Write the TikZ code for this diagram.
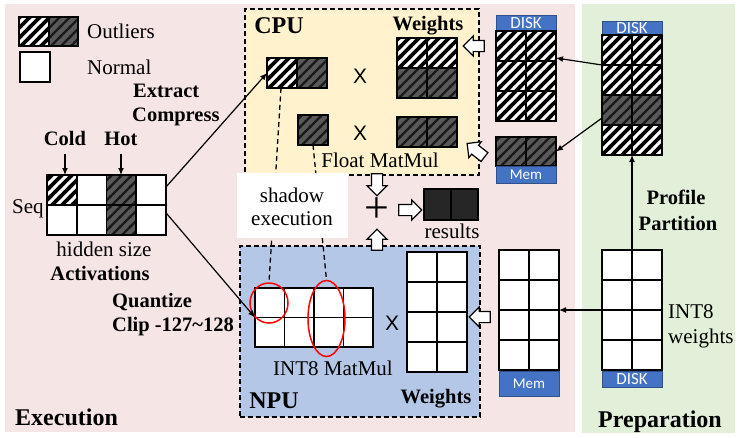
\documentclass[tikz,border=0pt]{standalone}
\usepackage{fontspec}
\setmainfont{Liberation Serif}
\newfontfamily\sansf{Carlito}
\newfontfamily\arialf{Liberation Sans}
\usetikzlibrary{arrows.meta,shapes.arrows,shapes.geometric,patterns.meta,calc}

\definecolor{pinkbg}{RGB}{246,229,229}
\definecolor{greenbg}{RGB}{226,239,217}
\definecolor{cpuy}{RGB}{255,242,204}
\definecolor{npub}{RGB}{180,199,231}
\definecolor{sblue}{RGB}{68,114,196}
\definecolor{dgray}{RGB}{89,89,89}
\definecolor{rdark}{RGB}{38,38,38}

\tikzdeclarepattern{
  name=hatchW,
  type=uncolored,
  bounding box={(-1pt,-1pt) and (11pt,11pt)},
  tile size={(10pt,10pt)},
  code={
    \draw[line width=3.6pt] (-1pt,-1pt) -- (11pt,11pt);
    \draw[line width=3.6pt] (-1pt,9pt) -- (1pt,11pt);
    \draw[line width=3.6pt] (9pt,-1pt) -- (11pt,1pt);
  }
}
\tikzdeclarepattern{
  name=hatchD,
  type=uncolored,
  bounding box={(-1pt,-1pt) and (11pt,11pt)},
  tile size={(10pt,10pt)},
  code={
    \draw[line width=2.2pt] (-1pt,-1pt) -- (11pt,11pt);
    \draw[line width=2.2pt] (-1pt,9pt) -- (1pt,11pt);
    \draw[line width=2.2pt] (9pt,-1pt) -- (11pt,1pt);
  }
}

\tikzset{
  cellw/.style={draw=black, line width=1.6pt, fill=white},
  cellh/.style={draw=black, line width=1.6pt, preaction={fill=white}, pattern=hatchW, pattern color=black},
  celld/.style={draw=black, line width=1.6pt, preaction={fill=dgray}, pattern=hatchD, pattern color=black!90},
  cellr/.style={draw=black, line width=1.6pt, fill=rdark},
  gridn/.style={inner sep=0pt, outer sep=0pt, anchor=north west, draw=none},
  dbox/.style={draw=black, line width=1.4pt, dash pattern=on 5pt off 3pt, inner sep=0pt, outer sep=0pt, anchor=north west},
  store/.style={fill=sblue, draw=sblue!70!black, line width=0.6pt, text=white, inner sep=0pt, outer sep=0pt, anchor=north west, minimum width=60pt},
  barrow/.style={single arrow, draw=black, fill=white, line width=1.2pt, inner sep=0pt, outer sep=0pt, single arrow head extend=4.5pt, single arrow tip angle=90, minimum height=22pt},
  conn/.style={line width=1.2pt, -{Latex[length=7pt,width=6pt]}},
  dconn/.style={line width=1.3pt, dash pattern=on 5pt off 3.5pt},
  txt/.style={font=\fontsize{21}{23}\selectfont, inner sep=0pt, anchor=base},
  btxt/.style={font=\bfseries\fontsize{20.5}{23}\selectfont, inner sep=0pt, anchor=base},
  bigtxt/.style={font=\bfseries\fontsize{24}{26}\selectfont, inner sep=0pt, anchor=base},
  xtxt/.style={font=\arialf\fontsize{21}{23}\selectfont, inner sep=0pt, anchor=base},
  oval/.style={ellipse, draw=red, line width=1.5pt, inner sep=0pt}
}

\begin{document}
\begin{tikzpicture}[x=1pt,y=-1pt]
\useasboundingbox (0,0) rectangle (747,437);

% backgrounds
\fill[pinkbg] (5,4) rectangle (575,432);
\fill[greenbg] (582,4) rectangle (735,433);

% CPU and NPU boxes
\node[dbox, fill=cpuy, minimum width=234pt, minimum height=166pt] (cpu) at (245,9) {};
\node[dbox, fill=npub, minimum width=240pt, minimum height=171pt] (npu) at (240,246) {};

% legend
\path[cellh] (19,17) rectangle ++(30,29);
\path[celld] (49,17) rectangle ++(29,29);
\path[cellw] (20,52) rectangle ++(30,30);
\node[txt, anchor=base west] (tout) at (87,38) {Outliers};
\node[txt, anchor=base west] (tnorm) at (87,74) {Normal};

% activations
\node[gridn, minimum width=119pt, minimum height=60pt] (act) at (47,175) {};
\foreach \i/\s in {0/cellh,1/cellw,2/celld,3/cellw} \path[\s] ({47+29.75*\i},175) rectangle ++(29.75,30);
\foreach \i/\s in {0/cellw,1/cellw,2/celld,3/cellw} \path[\s] ({47+29.75*\i},205) rectangle ++(29.75,30);
\node[btxt] (cold) at (65,145) {Cold};
\node[btxt] (hot) at (121,145) {Hot};
\draw[conn] ($(cold.south)+(0,9)$) -- (cold.south |- act.north);
\draw[conn] ($(hot.south)+(0,9)$) -- (hot.south |- act.north);
\node[txt] (seq) at (28,213) {Seq};
\node[txt] (hid) at (104,256) {hidden size};
\node[btxt] (actl) at (100,280) {Activations};
\node[btxt, anchor=base west] (extr) at (133,97) {Extract};
\node[btxt, anchor=base west] (compr) at (132,121) {Compress};
\node[btxt, anchor=base west] (quant) at (112,307) {Quantize};
\node[btxt, anchor=base west] (clip) at (112,331) {Clip -127\textasciitilde128};
\node[bigtxt, anchor=base west] (exec) at (15,425) {Execution};

% CPU content
\node[bigtxt] (cpul) at (279,33) {CPU};
\node[btxt] (cwl) at (428,30) {Weights};
\node[gridn, minimum width=60pt, minimum height=30pt] (cpuact) at (267,58) {};
\path[cellh] (267,58) rectangle ++(30,30);
\path[celld] (297,58) rectangle ++(30,30);
\node[xtxt] (x1) at (360,83) {X};
\node[gridn, minimum width=60pt, minimum height=60pt] (cw) at (397,38) {};
\foreach \i in {0,1} {\path[cellh] ({397+30*\i},38) rectangle ++(30,30);
  \path[celld] ({397+30*\i},68) rectangle ++(30,30);}
\node[gridn, minimum width=30pt, minimum height=30pt] (smalld) at (298,115) {};
\path[celld] (298,115) rectangle ++(30,30);
\node[xtxt] (x2) at (360,140) {X};
\node[gridn, minimum width=60pt, minimum height=30pt] (cdark) at (397,117) {};
\foreach \i in {0,1} \path[celld] ({397+30*\i},117) rectangle ++(30,30);
\node[txt] (fmm) at (380,167) {Float MatMul};

% NPU content
\node[gridn, minimum width=118pt, minimum height=59pt] (npuact) at (255,288) {};
\foreach \i in {0,1,2,3} \foreach \j in {0,1} \path[cellw] ({255+29.5*\i},{288+29.5*\j}) rectangle ++(29.5,29.5);
\node[xtxt] (x3) at (392,330) {X};
\node[gridn, minimum width=60pt, minimum height=120pt] (nw) at (407,252) {};
\foreach \i in {0,1} \foreach \j in {0,1,2,3} \path[cellw] ({407+30*\i},{252+30*\j}) rectangle ++(30,30);
\node[oval, minimum width=38pt, minimum height=40pt] (e1) at (269,303) {};
\node[oval, minimum width=37pt, minimum height=76pt] (e2) at (326.5,318.5) {};
\node[txt] (imm) at (333,375) {INT8 MatMul};
\node[bigtxt] (npul) at (274,408) {NPU};
\node[btxt] (nwl) at (436,403) {Weights};

% shadow execution
\draw[dconn] ($(cpuact.south west)+(14,0)$) -- (e1.north);
\draw[dconn] (smalld.south) -- (e2.north);
\node[gridn, fill=white, minimum width=111pt, minimum height=65pt] (shbox) at (237,173) {};
\node[txt] (sh1) at (292,202) {shadow};
\node[txt] (sh2) at (292,225) {execution};

% activation connectors
\draw[conn] ($(act.north east)!0.2!(act.south east)$) -- (cpuact.west);
\draw[conn] ($(act.north east)!0.63!(act.south east)$) -- (npuact.west);

% result path
\node[barrow, rotate=-90] (ba3) at (377,182) {\rule{0pt}{10pt}};
\node[font=\fontsize{44}{44}\selectfont, inner sep=0pt] (plus) at (377,210) {+};
\node[barrow, rotate=0, minimum height=23pt] (ba4) at (407.5,210) {\rule{0pt}{10pt}};
\node[gridn, minimum width=54pt, minimum height=31pt] (res) at (424,189) {};
\foreach \i in {0,1} \path[cellr] ({424+27*\i},189) rectangle ++(27,31);
\node[txt] (resl) at (452,238) {results};
\node[barrow, rotate=90, minimum height=21pt] (ba5) at (377,242.5) {\rule{0pt}{10pt}};

% pink storage column (upper)
\node[store, minimum height=16pt, font=\sansf\fontsize{17}{17}\selectfont] (disk1) at (496,15) {DISK};
\node[gridn, minimum width=60pt, minimum height=90pt] (pup) at (496,31) {};
\foreach \i in {0,1} \foreach \j in {0,1,2} \path[cellh] ({496+30*\i},{31+30*\j}) rectangle ++(30,30);
\node[gridn, minimum width=60pt, minimum height=29pt] (pdark) at (496,137) {};
\foreach \i in {0,1} \path[celld] ({496+30*\i},137) rectangle ++(30,29);
\node[store, minimum height=17pt, font=\sansf\fontsize{15}{15}\selectfont] (mem1) at (496,166) {Mem};

% green storage column (upper)
\node[store, minimum height=14pt, font=\sansf\fontsize{17}{17}\selectfont] (disk2) at (602,21) {DISK};
\node[gridn, minimum width=60pt, minimum height=120pt] (gup) at (602,35) {};
\foreach \j/\s in {0/cellh,1/cellh,2/celld,3/cellh} \foreach \i in {0,1} \path[\s] ({602+30*\i},{35+30*\j}) rectangle ++(30,30);

% lower columns
\node[gridn, minimum width=60pt, minimum height=120pt] (plow) at (499,250) {};
\foreach \i in {0,1} \foreach \j in {0,1,2,3} \path[cellw] ({499+30*\i},{250+30*\j}) rectangle ++(30,30);
\node[store, minimum height=25pt, font=\sansf\fontsize{15}{15}\selectfont] (mem2) at (499,371) {Mem};
\node[gridn, minimum width=60pt, minimum height=120pt] (glow) at (602,250) {};
\foreach \i in {0,1} \foreach \j in {0,1,2,3} \path[cellw] ({602+30*\i},{250+30*\j}) rectangle ++(30,30);
\node[store, minimum height=16pt, font=\sansf\fontsize{17}{17}\selectfont] (disk3) at (602,371) {DISK};

% connectors in storage
\draw[conn] ($(gup.north west)+(0,30)$) -- ($(pup.north east)+(0,27)$);
\draw[conn] ($(gup.north west)+(0,83)$) -- (pdark.east);
\draw[conn] (glow.north) -- (gup.south);
\draw[conn] (glow.west) -- (plow.east);

% block arrows into CPU / NPU
\node[barrow, rotate=180, minimum height=21pt] (ba1) at (476.5,46) {\rule{0pt}{10pt}};
\node[barrow, rotate=142] (ba2) at (478,152) {\rule{0pt}{10pt}};
\node[barrow, rotate=180, minimum height=21pt] (ba6) at (482.5,317) {\rule{0pt}{10pt}};

% preparation labels
\node[btxt] (prof) at (676,204) {Profile};
\node[btxt] (part) at (678,230) {Partition};
\node[txt, anchor=base west] (int8) at (668,318) {INT8};
\node[txt, anchor=base west] (wts) at (668,343) {weights};
\node[bigtxt] (prep) at (660,427) {Preparation};
\end{tikzpicture}
\end{document}
